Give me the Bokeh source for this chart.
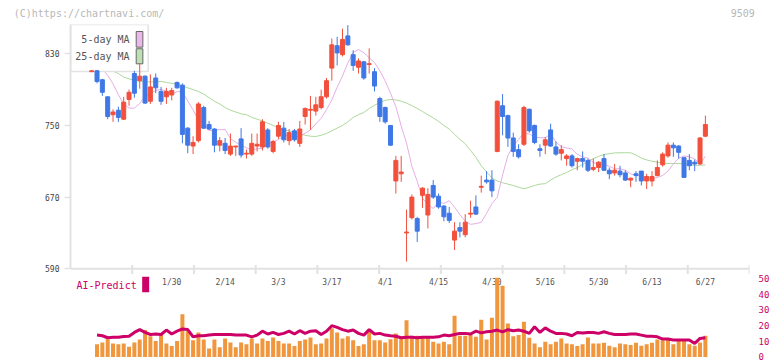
import numpy as np
from bokeh.plotting import figure
from bokeh.models import Range1d, LinearAxis, FixedTicker, Span, ColumnDataSource
from bokeh.core.properties import value
from bokeh.embed import file_html
from bokeh.resources import INLINE

# ---------------- data ----------------
opens = [810, 811, 801, 782, 762, 767, 757, 779, 808, 800,
         805, 777, 803, 788, 782, 784, 798, 795, 747, 727,
         733, 770, 751, 746, 728, 730, 718, 726, 735, 718,
         718, 727, 726, 745, 721, 738, 747, 733, 744, 730,
         760, 767, 766, 770, 782, 814, 839, 829, 850, 829,
         815, 821, 818, 810, 780, 770, 750, 688, 696, 630,
         647, 646, 672, 650, 683, 671, 660, 652, 622, 636,
         628, 651, 659, 681, 689, 689, 721, 772, 761, 736,
         723, 729, 768, 750, 724, 728, 745, 726, 719, 713,
         716, 710, 713, 711, 701, 703, 713, 700, 697, 699,
         697, 689, 696, 699, 688, 688, 694, 706, 716, 728,
         727, 714, 711, 709, 707, 738]
highs = [812, 812, 802, 782, 768, 771, 782, 790, 811, 819,
         806, 807, 808, 793, 792, 792, 799, 797, 748, 738,
         776, 772, 755, 747, 737, 736, 741, 727, 747, 723,
         741, 741, 757, 747, 734, 754, 754, 746, 746, 755,
         770, 783, 782, 790, 803, 847, 849, 858, 862, 834,
         825, 822, 836, 814, 782, 771, 750, 716, 716, 656,
         673, 648, 681, 680, 689, 674, 661, 659, 642, 642,
         651, 666, 672, 694, 699, 700, 778, 785, 762, 742,
         729, 772, 769, 751, 729, 737, 752, 732, 728, 718,
         718, 714, 721, 713, 713, 710, 718, 703, 707, 705,
         700, 692, 699, 699, 696, 699, 711, 720, 731, 731,
         728, 715, 718, 712, 737, 761]
lows = [810, 797, 783, 757, 754, 754, 756, 772, 781, 791,
        774, 774, 786, 773, 774, 778, 791, 730, 719, 718,
        731, 746, 745, 720, 721, 718, 716, 716, 714, 713,
        716, 721, 722, 724, 719, 735, 731, 728, 732, 726,
        751, 745, 761, 768, 780, 800, 817, 827, 839, 811,
        808, 801, 808, 788, 754, 752, 727, 674, 687, 598,
        645, 620, 658, 635, 668, 657, 643, 641, 611, 625,
        625, 647, 650, 675, 685, 670, 720, 739, 726, 715,
        713, 727, 742, 729, 715, 718, 726, 716, 711, 705,
        703, 700, 703, 698, 699, 698, 699, 690, 694, 692,
        688, 681, 687, 683, 679, 682, 693, 704, 714, 715,
        713, 692, 700, 699, 706, 737]
closes = [811, 799, 787, 760, 765, 759, 776, 787, 786, 805,
          775, 793, 792, 777, 788, 789, 792, 740, 728, 731,
          774, 747, 746, 728, 733, 722, 727, 727, 717, 719,
          730, 729, 754, 726, 732, 750, 734, 742, 734, 746,
          769, 768, 773, 782, 800, 840, 831, 846, 840, 817,
          822, 803, 819, 794, 760, 754, 728, 711, 698, 631,
          670, 632, 680, 673, 670, 659, 648, 644, 632, 632,
          642, 652, 651, 682, 687, 677, 777, 760, 736, 721,
          715, 770, 744, 731, 722, 734, 727, 718, 723, 716,
          705, 713, 710, 700, 703, 709, 700, 696, 700, 695,
          689, 691, 694, 688, 693, 693, 703, 718, 728, 725,
          720, 692, 705, 707, 736, 751]
ma5 = [815, 815, 813, 806, 796.5, 784.4, 774, 769.4, 769.4, 774.6,
       782.6, 785.8, 789.2, 790.2, 788.4, 785, 787.8, 787.6, 777.2, 767.4,
       756, 753, 744, 745.2, 745.2, 745.6, 735.2, 731.2, 727.4, 725.2,
       722.4, 724, 724.4, 729.8, 731.6, 734.2, 738.2, 739.2, 736.8, 738.4,
       741.2, 745, 751.8, 758, 767.6, 778.4, 792.6, 805.2, 819.8, 831.4,
       834.8, 831.2, 825.6, 820.2, 811, 799.6, 786, 771, 749.4, 730.2,
       704.4, 687.6, 668.4, 662.2, 657.2, 665, 662.8, 666, 658.8, 650.6,
       643, 639.6, 640.4, 641.8, 651.8, 662.8, 669.8, 694.8, 716.6, 727.4,
       734.2, 741.8, 740.4, 737.2, 736.2, 736.4, 740.2, 731.6, 726.4, 724.8,
       723.6, 717.8, 715, 713.4, 708.8, 706.2, 707, 704.4, 701.6, 701.6,
       700, 696, 694.2, 693.8, 691.4, 691, 691.8, 694.2, 699, 707,
       713.4, 716, 715, 712.4, 707.4, 715.6]
ma25 = [818, 816, 814, 812, 810.5, 808, 804, 802, 800.5, 799.4,
        799, 798.5, 799, 799.2, 798, 797, 796, 794, 792, 790,
        788, 785, 781, 777, 774, 770, 767, 765, 763, 762,
        759, 757, 755, 752.5, 750, 747.5, 745, 744, 742, 740.5,
        739, 738, 737.7, 739, 741, 744, 747, 750, 754, 759,
        762, 764.5, 769, 772.5, 775.5, 778, 779, 778.5, 777, 775,
        772, 769, 765.5, 762, 758.5, 754.5, 750, 746, 740, 734.5,
        729.5, 722, 714.5, 705, 698, 691.5, 688, 686, 684.5, 683,
        681, 679.3, 681, 683, 684.5, 685, 689, 692.5, 695, 697.5,
        700.5, 703, 706.5, 710, 713, 715.5, 717.5, 718.5, 719.3, 719.5,
        719.5, 719.5, 717, 713.5, 711.5, 710, 709, 708, 707.5, 707.5,
        707.5, 707, 706, 705.5, 705.5, 706]
# volume bars and AI-Predict line start at the second session
volume = [8.0, 9.2, 11.3, 8.6, 8.0, 8.6, 6.5, 9.2, 11.1, 17.1,
          13.2, 10.1, 13.9, 8.6, 6.9, 10.1, 27.1, 16.4, 10.7, 15.6,
          11.1, 5.4, 11.1, 6.1, 11.8, 9.2, 6.1, 9.2, 8.0, 11.8,
          8.6, 11.8, 10.1, 12.4, 10.1, 8.6, 8.6, 6.9, 10.1, 11.1,
          12.4, 8.0, 8.6, 11.8, 18.2, 15.6, 11.8, 13.2, 10.7, 6.9,
          8.0, 16.4, 10.7, 10.7, 9.2, 11.3, 15.0, 11.8, 23.4, 13.5,
          13.5, 12.2, 12.2, 9.7, 8.6, 9.7, 8.0, 26.2, 13.5, 13.5,
          14.3, 12.8, 23.7, 11.1, 25.0, 50.4, 45.3, 21.3, 13.2, 13.9,
          22.4, 12.2, 8.6, 6.1, 9.7, 8.0, 9.7, 11.8, 8.6, 8.0,
          6.9, 8.0, 12.4, 8.6, 8.6, 9.0, 7.1, 6.1, 8.6, 8.0,
          7.6, 9.0, 7.1, 8.0, 9.0, 11.1, 10.7, 11.8, 8.0, 11.1,
          10.7, 8.0, 7.1, 9.2, 13.5]
ai_predict = [13.9, 13.5, 12.2, 12.5, 12.5, 13.0, 13.2, 15.6, 17.4, 15.6,
              14.3, 14.6, 14.3, 17.1, 14.6, 16.4, 17.8, 17.4, 12.8, 13.5,
              13.5, 13.9, 14.3, 14.3, 14.3, 14.3, 13.9, 13.9, 13.9, 12.8,
              13.9, 16.4, 14.6, 15.6, 14.3, 15.0, 16.4, 14.6, 16.7, 15.0,
              16.4, 16.7, 14.3, 16.4, 19.9, 18.8, 17.4, 16.4, 17.1, 15.0,
              13.9, 17.4, 14.6, 15.0, 13.9, 13.5, 13.2, 12.2, 12.5, 12.5,
              12.2, 12.5, 12.5, 12.5, 12.8, 13.9, 13.5, 14.3, 15.0, 15.0,
              14.6, 16.4, 15.3, 16.0, 16.4, 17.1, 16.0, 17.4, 16.7, 17.1,
              16.4, 15.0, 19.2, 15.6, 18.5, 16.4, 15.0, 15.0, 14.6, 13.5,
              15.6, 15.3, 15.6, 15.6, 15.0, 16.0, 15.0, 14.3, 14.3, 14.3,
              14.6, 14.6, 13.9, 13.2, 13.2, 12.8, 11.4, 11.4, 10.8, 10.8,
              10.8, 10.8, 8.6, 11.8, 12.2]
date_labels = ["1/30", "2/14", "3/3", "3/17", "4/1", "4/15", "4/30", "5/16", "5/30", "6/13", "6/27"]
date_index = [15, 25, 35, 45, 55, 65, 75, 85, 95, 105, 115]
price_ticks = [590, 670, 750, 830]
ai_ticks = [0, 10, 20, 30, 40, 50]
header_texts = {-0.5: "(C)https://chartnavi.com/", 122: "9509"}

# ---------------- styling ----------------
MONO = "DejaVu Sans Mono"
RED = "#f2503c"
BLUE = "#3f78e6"
VOLC = "#f0973e"
AIC = "#cc0066"
MA5C = "#e6aee6"
MA25C = "#acd89c"
AXC = "#e2e2e2"

X0, X1 = -3.97, 123.27
Y0, Y1 = 489.8, 862.7
V0, V1 = -1.0, 211.7

p = figure(width=772, height=361, output_backend="svg", toolbar_location=None,
           x_range=Range1d(X0, X1), y_range=Range1d(Y0, Y1),
           x_axis_location=None, y_axis_location="left",
           min_border_left=70, min_border_right=20, min_border_top=24, min_border_bottom=3)
p.extra_y_ranges = {"vol": Range1d(V0, V1)}
p.outline_line_color = None
p.xgrid.visible = False
p.ygrid.visible = False
p.background_fill_color = "white"
p.border_fill_color = "white"

yl = p.left[0]
yl.ticker = FixedTicker(ticks=price_ticks)
yl.bounds = (price_ticks[0], Y1)
yl.axis_line_color = AXC
yl.axis_line_width = 2
yl.major_tick_line_color = AXC
yl.major_tick_line_width = 1.5
yl.major_tick_out = 6
yl.major_tick_in = 0
yl.minor_tick_line_color = None
yl.major_label_text_font = MONO
yl.major_label_text_font_size = "8px"
yl.major_label_text_color = "#444444"
yl.major_label_standoff = 5

yr = LinearAxis(y_range_name="vol", ticker=FixedTicker(ticks=ai_ticks),
                axis_line_color=None, major_tick_line_color=None, minor_tick_line_color=None,
                major_label_text_color=AIC, major_label_text_font=MONO,
                major_label_text_font_size="9px", major_label_standoff=3)
p.add_layout(yr, "right")

# header line (copyright + code) as labels of a bare top axis
xt = LinearAxis(ticker=FixedTicker(ticks=list(header_texts.keys())),
                major_label_overrides=header_texts,
                axis_line_color=None, major_tick_line_color=None, minor_tick_line_color=None,
                major_tick_out=0, major_tick_in=0,
                major_label_text_color="#b8b8b8", major_label_text_font=MONO,
                major_label_text_font_size="10px", major_label_standoff=6)
p.add_layout(xt, "above")

idx = np.arange(len(closes))
o = np.array(opens, dtype=float)
c = np.array(closes, dtype=float)
colors = [RED if cc >= oo else BLUE for oo, cc in zip(o, c)]
src = ColumnDataSource(dict(x=idx, o=o, c=c, h=highs, l=lows,
                            top=np.maximum(o, c), bot=np.minimum(o, c), col=colors,
                            ma5=ma5, ma25=ma25))
vsrc = ColumnDataSource(dict(x=idx[1:], v=volume, ai=ai_predict))

# date labels (below the price axis, inside the lower panel)
p.text(x=date_index, y=[47.4] * len(date_index), text=date_labels, y_range_name="vol",
       text_font=value(MONO), text_font_size="8px", text_color="#555555",
       text_align="center", text_baseline="middle")

# lower panel: volume bars + AI-Predict line
p.vbar(x="x", top="v", bottom=0, width=0.75, source=vsrc, y_range_name="vol",
       fill_color=VOLC, line_color=None)
p.line(x="x", y="ai", source=vsrc, y_range_name="vol", line_color=AIC, line_width=3)

# AI-Predict legend
p.text(x=[-2.85], y=[45.5], text=["AI-Predict"], y_range_name="vol",
       text_font=value(MONO), text_font_size="10px", text_color=AIC,
       text_align="left", text_baseline="middle")
p.quad(left=[9.46], right=[10.77], bottom=[41.2], top=[51.0], y_range_name="vol",
       fill_color=AIC, line_color=None)

# moving averages
p.line(x="x", y="ma25", source=src, line_color=MA25C, line_width=1)
p.line(x="x", y="ma5", source=src, line_color=MA5C, line_width=1)

# legend box (drawn above the MA lines, below the candles)
p.quad(left=[X0], right=[10.58], bottom=[810.2], top=[Y1], fill_color="white",
       line_color=AXC, line_width=1.5)
p.text(x=[7.09, 7.09], y=[845.6, 827.0], text=["5-day MA", "25-day MA"],
       text_font=value(MONO), text_font_size="10px", text_color="#555555",
       text_align="right", text_baseline="middle")
p.quad(left=[8.34, 8.34], right=[9.59, 9.59], top=[854.9, 835.6], bottom=[837.4, 818.8],
       fill_color=["#ebb8eb", "#bcdfb4"], line_color="#666666", line_width=1)

# price axis line and x ticks of the price panel
p.add_layout(Span(location=price_ticks[0], dimension="width", line_color=AXC, line_width=2))
tick_x = [X0 + k * (X1 - X0) / 11 for k in range(1, 12)]
p.segment(x0=tick_x, y0=[594.2] * 11, x1=tick_x, y1=[584.2] * 11, line_color=AXC, line_width=2)

# candles
p.segment(x0="x", y0="h", x1="x", y1="l", source=src, line_color="col", line_width=1)
p.vbar(x="x", top="top", bottom="bot", width=0.75, source=src,
       fill_color="col", line_color="col", line_width=1)

open("out.html", "w").write(file_html(p, INLINE))
